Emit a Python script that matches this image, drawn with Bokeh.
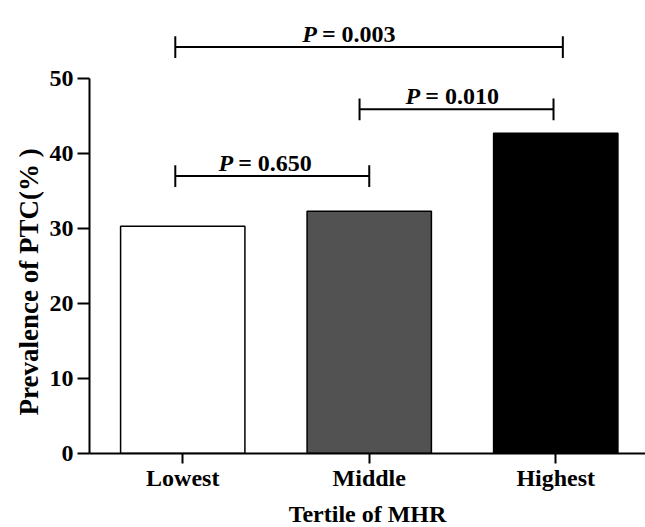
from bokeh.plotting import figure
from bokeh.models import Range1d, FixedTicker, ColumnDataSource, Title
from bokeh.core.properties import value
from bokeh.embed import file_html
from bokeh.resources import INLINE

# ---- data ----
categories = ["Lowest", "Middle", "Highest"]
prevalence = [30.3, 32.3, 42.7]
bar_colors = ["#ffffff", "#525252", "#000000"]
p_labels = ["0.650", "0.010", "0.003"]
# comparisons: (from category index, to category index)
comparisons = [(0, 1), (1, 2), (0, 2)]
bracket_heights = [37.0, 45.9, 54.2]
y_ticks = [0, 10, 20, 30, 40, 50]

FONT = "Liberation Serif"

PX_PER_CAT = 186.5
PX_PER_UNIT = 7.5
FRAME_W = 556
FRAME_H = 445

xc = [i + 0.5 for i in range(len(categories))]

p = figure(frame_width=FRAME_W, frame_height=FRAME_H,
           x_range=Range1d(0, FRAME_W / PX_PER_CAT),
           y_range=Range1d(0, FRAME_H / PX_PER_UNIT),
           output_backend="svg", toolbar_location=None,
           min_border_left=89, min_border_right=0, min_border_top=8,
           min_border_bottom=0)
p.outline_line_color = None
p.xgrid.visible = False
p.ygrid.visible = False
p.background_fill_color = "white"
p.border_fill_color = "white"

src = ColumnDataSource(dict(x=xc, top=prevalence, color=bar_colors))
p.vbar(x="x", top="top", bottom=0, width=2 / 3, source=src,
       fill_color="color", line_color="black", line_width=1.5)

# axes
p.yaxis.ticker = FixedTicker(ticks=y_ticks)
p.yaxis.bounds = (0, 50)
p.xaxis.ticker = FixedTicker(ticks=xc)
p.xaxis.major_label_overrides = {x: c for x, c in zip(xc, categories)}
p.xaxis.axis_label = "Tertile of MHR"
for ax in (p.xaxis, p.yaxis):
    ax.axis_line_width = 2
    ax.axis_line_color = "black"
    ax.major_tick_line_width = 2
    ax.major_tick_line_color = "black"
    ax.major_tick_in = 0
    ax.minor_tick_line_color = None
    ax.major_label_text_font = FONT
    ax.major_label_text_font_style = "bold"
    ax.major_label_text_font_size = "24px"
    ax.major_label_text_color = "black"
    ax.axis_label_text_font = FONT
    ax.axis_label_text_font_style = "bold"
    ax.axis_label_text_color = "black"
p.xaxis.axis_label_text_font_size = "24px"
p.yaxis.major_tick_out = 12
p.yaxis.major_label_standoff = 4
p.xaxis.major_tick_out = 10
p.xaxis.major_label_standoff = 1
p.xaxis.axis_label_standoff = 7

# y-axis title, placed like the reference (a bit below the frame centre)
ytitle = Title(text="Prevalence of PTC(% )", align="left", offset=38,
               text_font=FONT, text_font_style="bold",
               text_font_size="27px", text_color="black", standoff=6)
p.add_layout(ytitle, "left")

# significance brackets
cap = 1.45
left_shift = [-0.04, -0.052, -0.04]
right_shift = [0.0, -0.012, 0.038]
bx0, bx1, bh = [], [], []
for (a, b), h, ls, rs in zip(comparisons, bracket_heights, left_shift, right_shift):
    bx0.append(xc[a] + ls)
    bx1.append(xc[b] + rs)
    bh.append(h)
p.segment(x0=bx0, y0=bh, x1=bx1, y1=bh, line_color="black", line_width=2)
p.segment(x0=bx0, y0=[h - cap for h in bh], x1=bx0, y1=[h + cap for h in bh],
          line_color="black", line_width=2)
p.segment(x0=bx1, y0=[h - cap for h in bh], x1=bx1, y1=[h + cap for h in bh],
          line_color="black", line_width=2)

# P labels: italic P + bold "= value"
split_x = [0.781, 1.784, 1.230]
label_y = [h + 1.8 for h in bh]
p.text(x=split_x, y=label_y, text=["P"] * 3, text_align="right",
       text_baseline="alphabetic", x_offset=-2,
       text_font=value(FONT), text_font_style="bold italic",
       text_font_size="24px", text_color="black")
p.text(x=split_x, y=label_y, text=["= " + s for s in p_labels],
       text_align="left", text_baseline="alphabetic", x_offset=3,
       text_font=value(FONT), text_font_style="bold",
       text_font_size="24px", text_color="black")

open("out.html", "w").write(file_html(p, INLINE))
